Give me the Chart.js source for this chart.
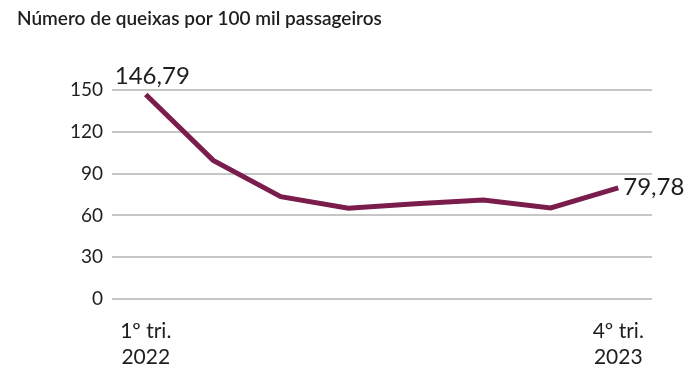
<!DOCTYPE html>
<html>
<head>
<meta charset="utf-8">
<script src="https://cdn.jsdelivr.net/npm/chart.js@4"></script>
<style>
  html, body { margin: 0; padding: 0; background: #fff; }
  #wrap { width: 698px; height: 368px; position: relative; }
</style>
</head>
<body>
<div id="wrap"><canvas id="queixasChart"></canvas></div>
<script>
// quarters from 1º tri. 2022 to 4º tri. 2023
const quarters = ['1º tri. 2022', '2º tri. 2022', '3º tri. 2022', '4º tri. 2022',
                  '1º tri. 2023', '2º tri. 2023', '3º tri. 2023', '4º tri. 2023'];
const queixas = [146.79, 99.5, 73.5, 65.2, 68.3, 71.0, 65.3, 79.78];
const yTicks = [0, 30, 60, 90, 120, 150];
const titleText = 'Número de queixas por 100 mil passageiros';

const FONT = 'Lato, "Noto Sans", sans-serif';
const LINE_COLOR = '#7b1d4c';
const TEXT_COLOR = '#1e1e1e';

// title at the top left
const titlePlugin = {
  id: 'titleText',
  afterDraw(chart) {
    const c = chart.ctx;
    c.save();
    c.font = '600 19px ' + FONT;
    c.fillStyle = TEXT_COLOR;
    c.textAlign = 'left';
    c.textBaseline = 'middle';
    c.fillText(titleText, 17, 19);
    c.restore();
  }
};

// value labels on first and last point
const endLabels = {
  id: 'endLabels',
  afterDatasetsDraw(chart) {
    const c = chart.ctx;
    const pts = chart.getDatasetMeta(0).data;
    const fmt = v => v.toFixed(2).replace('.', ',');
    c.save();
    c.font = '24px ' + FONT;
    c.fillStyle = TEXT_COLOR;
    c.textBaseline = 'middle';
    const first = pts[0], last = pts[pts.length - 1];
    c.textAlign = 'left';
    c.fillText(fmt(queixas[0]), first.x - 31, first.y - 18);
    c.fillText(fmt(queixas[queixas.length - 1]), last.x + 5, last.y - 1);
    c.restore();
  }
};

new Chart(document.getElementById('queixasChart'), {
  type: 'line',
  data: {
    labels: quarters,
    datasets: [{
      data: queixas,
      borderColor: LINE_COLOR,
      borderWidth: 5,
      pointRadius: 0,
      tension: 0,
      fill: false
    }]
  },
  options: {
    responsive: true,
    maintainAspectRatio: false,
    animation: false,
    layout: { padding: { top: 90, right: 46, bottom: 0, left: 0 } },
    plugins: { legend: { display: false }, tooltip: { enabled: false } },
    scales: {
      x: {
        offset: true,
        grid: { display: false },
        border: { display: false },
        ticks: {
          autoSkip: false,
          maxRotation: 0,
          padding: 11,
          color: TEXT_COLOR,
          font: { family: FONT, size: 21, lineHeight: 1.25 },
          callback: function (val, i) {
            if (i === 0 || i === quarters.length - 1) {
              const s = quarters[i];
              const k = s.lastIndexOf(' ');
              return [s.slice(0, k), s.slice(k + 1)];
            }
            return '';
          }
        },
        afterFit(scale) { scale.height = 69; }
      },
      y: {
        min: 0,
        max: 150,
        afterBuildTicks(scale) { scale.ticks = yTicks.map(v => ({ value: v })); },
        grid: { color: '#c6c6c6', lineWidth: 2, drawTicks: false },
        border: { display: false },
        ticks: {
          padding: 9,
          color: TEXT_COLOR,
          font: { family: FONT, size: 19 }
        },
        afterFit(scale) { scale.width = 112; }
      }
    }
  },
  plugins: [titlePlugin, endLabels]
});
</script>
</body>
</html>
